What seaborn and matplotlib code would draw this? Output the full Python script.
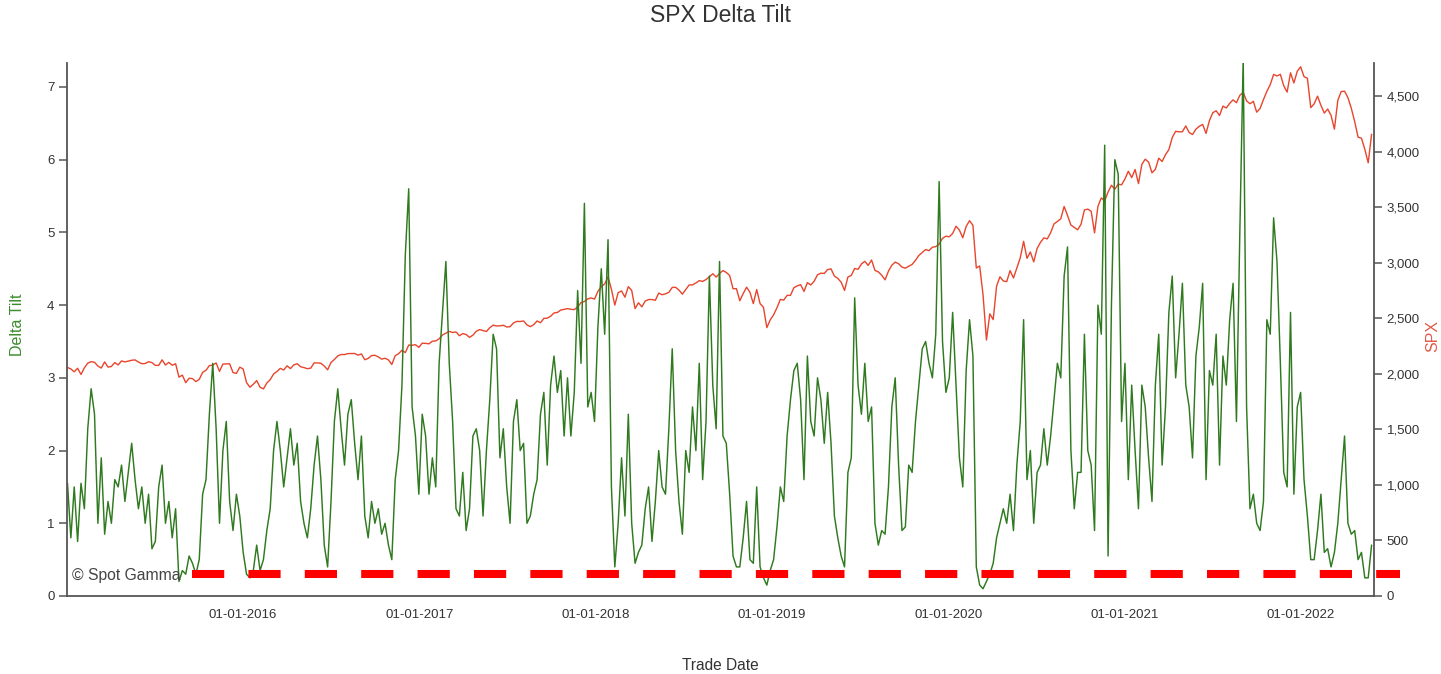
import matplotlib
matplotlib.use("Agg")
import pandas as pd
import seaborn as sns
import matplotlib.pyplot as plt
import matplotlib.dates as mdates
import matplotlib.ticker as mticker

# ---------------- data ----------------
series_start = "2015-01-02"   # weekly samples, both series
tilt_2015 = [1.55, 0.8, 1.5, 0.75, 1.55, 1.2, 2.3, 2.85, 2.5, 1.0,
             1.9, 0.85, 1.3, 1.0, 1.6, 1.5, 1.8, 1.3, 1.7, 2.1,
             1.6, 1.2, 1.5, 1.0, 1.4, 0.65, 0.75, 1.5, 1.8, 1.0,
             1.3, 0.8, 1.2, 0.2, 0.35, 0.3, 0.55, 0.45, 0.3, 0.5,
             1.4, 1.6, 2.5, 3.2, 2.3, 1.0, 2.0, 2.4, 1.3, 0.9,
             1.4, 1.1]
tilt_2016 = [0.6, 0.3, 0.25, 0.35, 0.7, 0.35, 0.5, 0.9,
             1.2, 2.0, 2.4, 2.0, 1.5, 1.9, 2.3, 1.8, 2.1, 1.3,
             1.0, 0.8, 1.2, 1.8, 2.2, 1.6, 0.7, 0.4, 1.3, 2.4,
             2.85, 2.3, 1.8, 2.5, 2.7, 2.1, 1.6, 2.2, 1.1, 0.8,
             1.3, 1.0, 1.2, 0.85, 1.0, 0.7, 0.5, 1.6, 2.0, 2.9,
             4.7, 5.6, 2.6, 2.2]
tilt_2017 = [1.4, 2.5, 2.2, 1.4, 1.9, 1.5,
             3.2, 3.9, 4.6, 3.2, 2.4, 1.2, 1.1, 1.7, 0.9, 1.2,
             2.2, 2.3, 2.0, 1.1, 2.0, 2.7, 3.6, 3.4, 1.9, 2.3,
             1.5, 1.0, 2.4, 2.7, 2.0, 2.1, 1.0, 1.1, 1.4, 1.6,
             2.5, 2.8, 1.8, 2.9, 3.3, 2.8, 3.1, 2.2, 3.0, 2.2,
             2.8, 4.2, 3.2, 5.4, 2.6, 2.8]
tilt_2018 = [2.4, 3.7, 4.5, 3.6,
             4.9, 1.5, 0.4, 1.0, 1.9, 1.1, 2.5, 1.0, 0.45, 0.6,
             0.7, 1.2, 1.5, 0.75, 1.3, 2.0, 1.5, 1.4, 2.3, 3.4,
             2.0, 1.3, 0.85, 2.0, 1.7, 2.6, 2.0, 3.2, 1.6, 2.4,
             4.4, 2.9, 2.3, 4.6, 2.2, 2.1, 1.4, 0.55, 0.4, 0.4,
             0.8, 1.3, 0.5, 0.45, 1.5, 0.4, 0.25, 0.15]
tilt_2019 = [0.35, 0.5,
             0.95, 1.5, 1.3, 2.2, 2.7, 3.1, 3.2, 2.7, 1.6, 3.3,
             2.4, 2.2, 3.0, 2.7, 2.1, 2.8, 2.1, 1.1, 0.8, 0.55,
             0.4, 1.7, 1.9, 4.1, 2.9, 2.5, 3.2, 2.4, 2.6, 1.0,
             0.7, 0.9, 0.85, 1.5, 2.6, 3.0, 1.8, 0.9, 0.95, 1.8,
             1.7, 2.4, 2.9, 3.4, 3.5, 3.2, 3.0, 3.6, 5.7, 3.5]
tilt_2020 = [2.8, 3.0, 3.9, 2.9, 1.9, 1.5, 3.1, 3.8, 3.3, 0.4,
             0.15, 0.1, 0.2, 0.3, 0.45, 0.8, 1.0, 1.2, 1.0, 1.4,
             0.9, 1.8, 2.4, 3.8, 1.6, 2.0, 1.0, 1.7, 1.8, 2.3,
             1.8, 2.2, 2.7, 3.2, 3.0, 4.4, 4.8, 2.0, 1.2, 1.7,
             1.7, 3.6, 2.0, 1.8, 0.9, 4.0, 3.6, 6.2, 0.55, 4.0,
             6.0, 5.8]
tilt_2021 = [2.4, 3.2, 1.6, 2.9, 2.0, 1.2, 2.9, 2.6,
             1.9, 1.3, 2.9, 3.6, 1.8, 2.6, 3.9, 4.4, 3.0, 3.6,
             4.3, 2.9, 2.6, 1.9, 3.3, 3.7, 4.3, 1.6, 3.1, 2.9,
             3.6, 1.8, 3.3, 2.9, 3.8, 4.3, 2.4, 5.0, 7.4, 2.6,
             1.2, 1.4, 1.0, 0.9, 1.3, 3.8, 3.6, 5.2, 4.6, 3.2,
             1.7, 1.5, 3.9, 1.4]
tilt_2022 = [2.6, 2.8, 1.6, 1.1, 0.5, 0.5,
             0.9, 1.4, 0.6, 0.65, 0.4, 0.6, 1.0, 1.6, 2.2, 1.0,
             0.85, 0.9, 0.5, 0.6, 0.25, 0.25, 0.7]

spx_2015 = [2058, 2045, 2019, 2051, 1995, 2055, 2097, 2110, 2105, 2071,
            2053, 2108, 2061, 2067, 2102, 2081, 2117, 2108, 2116, 2123,
            2126, 2107, 2092, 2094, 2110, 2102, 2077, 2077, 2127, 2080,
            2104, 2078, 2092, 1971, 1989, 1921, 1961, 1958, 1931, 1951,
            2014, 2033, 2075, 2079, 2099, 2023, 2089, 2090, 2091, 2012,
            2005, 2061]
spx_2016 = [2044, 1922, 1880, 1907, 1940, 1880, 1865, 1918, 1948, 1999,
            2022, 2050, 2035, 2073, 2048, 2081, 2092, 2065, 2057, 2047,
            2052, 2099, 2099, 2096, 2071, 2037, 2103, 2130, 2162, 2175,
            2174, 2183, 2184, 2184, 2169, 2180, 2128, 2139, 2165, 2168,
            2153, 2133, 2141, 2126, 2085, 2164, 2182, 2213, 2192, 2260,
            2258, 2263]
spx_2017 = [2239, 2277, 2275, 2271, 2295, 2297, 2316, 2351, 2367, 2383,
            2373, 2378, 2344, 2363, 2355, 2329, 2349, 2384, 2399, 2391,
            2382, 2416, 2439, 2432, 2433, 2438, 2423, 2425, 2459, 2473,
            2472, 2477, 2441, 2426, 2444, 2477, 2461, 2500, 2502, 2519,
            2549, 2553, 2575, 2581, 2588, 2582, 2579, 2603, 2642, 2652,
            2676, 2684]
spx_2018 = [2674, 2743, 2786, 2810, 2873, 2762, 2620, 2732, 2747, 2691,
            2786, 2752, 2588, 2641, 2604, 2656, 2670, 2670, 2663, 2728,
            2713, 2721, 2735, 2779, 2780, 2755, 2718, 2760, 2801, 2802,
            2819, 2840, 2833, 2850, 2875, 2902, 2872, 2905, 2930, 2914,
            2886, 2767, 2768, 2659, 2723, 2781, 2736, 2633, 2760, 2633,
            2600, 2417]
spx_2019 = [2486, 2532, 2596, 2671, 2665, 2707, 2708, 2776, 2793, 2804,
            2743, 2822, 2801, 2834, 2893, 2907, 2905, 2940, 2946, 2881,
            2860, 2826, 2752, 2873, 2887, 2950, 2942, 2990, 3014, 2977,
            3026, 2932, 2919, 2889, 2847, 2926, 2979, 3007, 2992, 2962,
            2952, 2970, 2986, 3023, 3067, 3093, 3120, 3110, 3141, 3146,
            3169, 3221]
spx_2020 = [3240, 3235, 3265, 3330, 3295, 3226, 3328, 3380, 3338, 2954,
            2972, 2711, 2305, 2541, 2489, 2790, 2875, 2837, 2831, 2930,
            2864, 2955, 3044, 3194, 3041, 3098, 3009, 3130, 3185, 3225,
            3216, 3271, 3351, 3373, 3397, 3508, 3427, 3341, 3319, 3298,
            3348, 3477, 3484, 3465, 3270, 3509, 3585, 3558, 3638, 3699,
            3663, 3709]
spx_2021 = [3703, 3756, 3825, 3768, 3841, 3714, 3887, 3934, 3907, 3811,
            3842, 3943, 3913, 3975, 4020, 4129, 4185, 4180, 4181, 4233,
            4174, 4156, 4204, 4230, 4247, 4166, 4281, 4352, 4370, 4327,
            4412, 4395, 4437, 4468, 4442, 4509, 4535, 4459, 4433, 4455,
            4357, 4391, 4471, 4545, 4605, 4697, 4683, 4698, 4595, 4538,
            4712, 4620]
spx_2022 = [4726, 4766, 4677, 4663, 4398, 4432, 4501, 4419, 4349, 4385,
            4329, 4204, 4463, 4543, 4546, 4488, 4392, 4272, 4132, 4123,
            4023, 3901, 4158]

threshold_value = 0.3
threshold_dates = ["2015-09-17", "2022-07-24"]

x_tick_dates = ["2016-01-01", "2017-01-01", "2018-01-01", "2019-01-01",
                "2020-01-01", "2021-01-01", "2022-01-01"]
left_ticks = [0, 1, 2, 3, 4, 5, 6, 7]
right_ticks = [0, 500, 1000, 1500, 2000, 2500, 3000, 3500, 4000, 4500]

# ---------------- assemble ----------------
delta_tilt = (tilt_2015 + tilt_2016 + tilt_2017 + tilt_2018 + tilt_2019 +
              tilt_2020 + tilt_2021 + tilt_2022)
spx = (spx_2015 + spx_2016 + spx_2017 + spx_2018 + spx_2019 +
       spx_2020 + spx_2021 + spx_2022)

tilt_df = pd.DataFrame({"date": pd.date_range(series_start, periods=len(delta_tilt), freq="7D"),
                        "tilt": delta_tilt})
spx_df = pd.DataFrame({"date": pd.date_range(series_start, periods=len(spx), freq="7D"),
                       "spx": spx})
thr_df = pd.DataFrame({"date": pd.to_datetime(threshold_dates),
                       "v": [threshold_value] * len(threshold_dates)})

# ---------------- style ----------------
sns.set_theme(style="white")
plt.rcParams["font.family"] = ["Liberation Sans", "DejaVu Sans"]

GREEN = "#2f7a1f"
RED = "#e8452c"
AXC = "#555555"
TXT = "#333333"

W, H = 1441, 674
fig = plt.figure(figsize=(W / 100, H / 100), dpi=100)
left, right, bottom, top = 67, 1374, 596, 63
ax = fig.add_axes([left / W, 1 - bottom / H, (right - left) / W, (bottom - top) / H])
ax2 = ax.twinx()

sns.lineplot(data=spx_df, x="date", y="spx", ax=ax2, color=RED, linewidth=1.0)
sns.lineplot(data=tilt_df, x="date", y="tilt", ax=ax, color=GREEN, linewidth=1.05)
line = ax.plot(thr_df["date"], thr_df["v"], color="#ff0000", linewidth=5.8,
               clip_on=False, zorder=6)[0]
line.set_dashes((4, 3))
line.set_dash_capstyle("butt")

ax.set_zorder(ax2.get_zorder() + 1)
ax.patch.set_visible(False)

ax.set_xlim(pd.Timestamp("2015-01-01"), pd.Timestamp("2022-06-01"))
ax.set_ylim(0, 7.33)
ax2.set_ylim(0, 4800)

ax.set_xticks(pd.to_datetime(x_tick_dates))
ax.xaxis.set_major_formatter(mdates.DateFormatter("%m-%d-%Y"))
ax.set_yticks(left_ticks)
ax2.set_yticks(right_ticks)
ax2.yaxis.set_major_formatter(mticker.StrMethodFormatter("{x:,.0f}"))

for a in (ax, ax2):
    a.set_xlabel("")
    a.set_ylabel("")
    a.spines["top"].set_visible(False)
    for s in a.spines.values():
        s.set_color(AXC)
        s.set_linewidth(1.3)
    a.tick_params(direction="out", length=6, width=1.1, color=AXC,
                  labelsize=9.5, labelcolor=TXT, pad=3)
ax.spines["right"].set_visible(False)
ax2.spines["left"].set_visible(False)
ax2.spines["bottom"].set_visible(False)
ax.tick_params(axis="x", pad=3)
ax.grid(False)
ax2.grid(False)

ax.text(0.004, 0.039, "\u00a9 Spot Gamma", transform=ax.transAxes, ha="left",
        va="center", fontsize=11.3, color="#444444", zorder=7)

fig.text(0.5, 1 - 15 / H, "SPX Delta Tilt", ha="center", va="center",
         fontsize=16.5, color=TXT)
fig.text(0.5, 1 - 665 / H, "Trade Date", ha="center", va="center",
         fontsize=11.2, color=TXT)
fig.text(18 / W, 1 - 325 / H, "Delta Tilt", rotation=90, ha="center",
         va="center", fontsize=11.5, color="#3c8c2c")
fig.text(1440 / W, 1 - 336 / H, "SPX", rotation=90, ha="right",
         va="center", fontsize=11.5, color="#e05a4a")

fig.savefig("out.png", dpi=100)
